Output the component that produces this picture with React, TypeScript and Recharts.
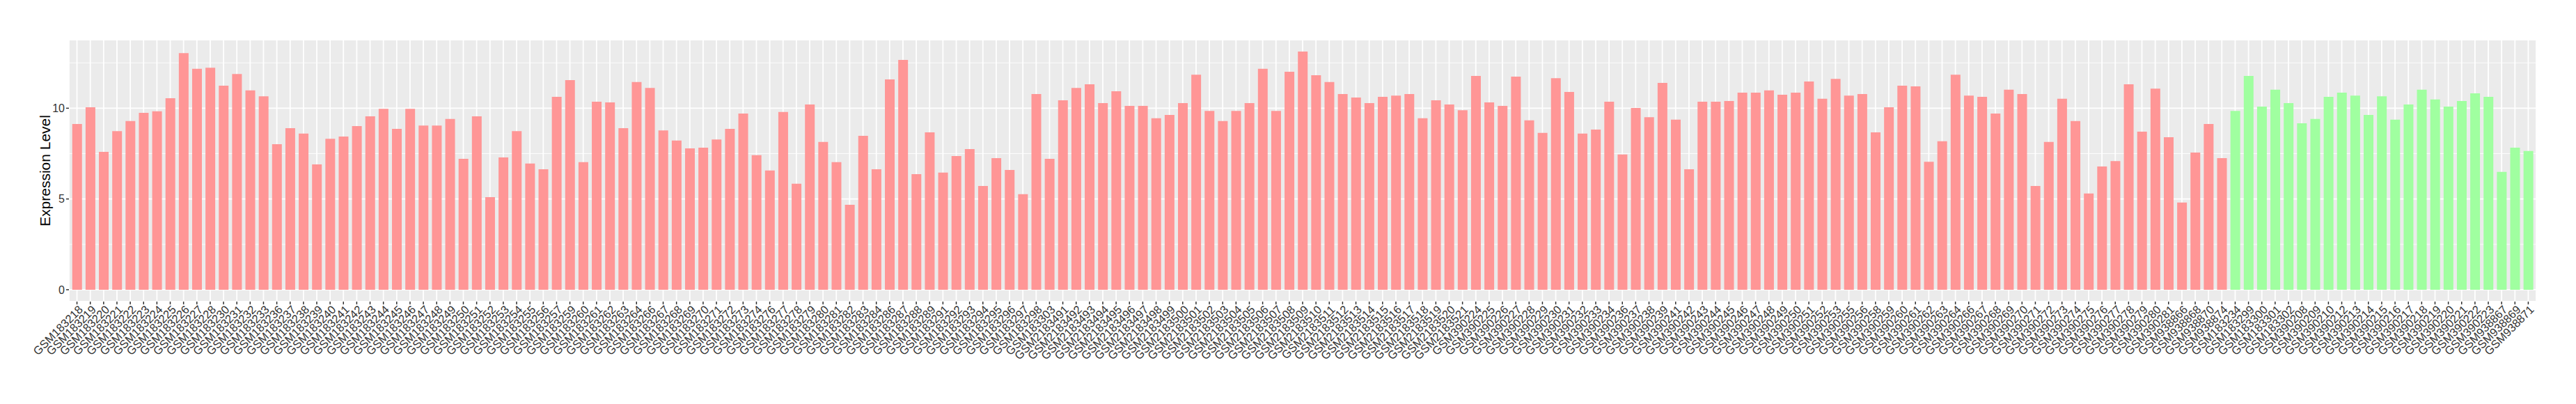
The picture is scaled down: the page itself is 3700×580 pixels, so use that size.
import { Bar, BarChart, CartesianGrid, Cell, XAxis, YAxis } from "recharts";

const groupASamples = [
  "GSM183218", "GSM183219", "GSM183220", "GSM183221", "GSM183222", "GSM183223", "GSM183224",
  "GSM183225", "GSM183226", "GSM183227", "GSM183228", "GSM183230", "GSM183231", "GSM183232",
  "GSM183233", "GSM183236", "GSM183237", "GSM183238", "GSM183239", "GSM183240", "GSM183241",
  "GSM183242", "GSM183243", "GSM183244", "GSM183245", "GSM183246", "GSM183247", "GSM183248",
  "GSM183249", "GSM183250", "GSM183251", "GSM183252", "GSM183253", "GSM183254", "GSM183255",
  "GSM183256", "GSM183257", "GSM183259", "GSM183260", "GSM183261", "GSM183262", "GSM183263",
  "GSM183264", "GSM183266", "GSM183267", "GSM183268", "GSM183269", "GSM183270", "GSM183271",
  "GSM183272", "GSM183273", "GSM183274", "GSM183276", "GSM183277", "GSM183278", "GSM183279",
  "GSM183280", "GSM183281", "GSM183282", "GSM183283", "GSM183284", "GSM183286", "GSM183287",
  "GSM183288", "GSM183289", "GSM183291", "GSM183292", "GSM183293", "GSM183294", "GSM183295",
  "GSM183296", "GSM183297", "GSM183298", "GSM183303", "GSM2183491", "GSM2183492", "GSM2183493",
  "GSM2183494", "GSM2183495", "GSM2183496", "GSM2183497", "GSM2183498", "GSM2183499",
  "GSM2183500", "GSM2183501", "GSM2183502", "GSM2183503", "GSM2183504", "GSM2183505",
  "GSM2183506", "GSM2183507", "GSM2183508", "GSM2183509", "GSM2183510", "GSM2183511",
  "GSM2183512", "GSM2183513", "GSM2183514", "GSM2183515", "GSM2183516", "GSM2183517",
  "GSM2183518", "GSM2183519", "GSM2183520", "GSM2183521", "GSM390224", "GSM390225", "GSM390226",
  "GSM390227", "GSM390228", "GSM390229", "GSM390230", "GSM390231", "GSM390232", "GSM390233",
  "GSM390234", "GSM390236", "GSM390237", "GSM390238", "GSM390239", "GSM390241", "GSM390242",
  "GSM390243", "GSM390244", "GSM390245", "GSM390246", "GSM390247", "GSM390248", "GSM390249",
  "GSM390250", "GSM390251", "GSM390252", "GSM390253", "GSM390255", "GSM390256", "GSM390258",
  "GSM390259", "GSM390260", "GSM390261", "GSM390262", "GSM390263", "GSM390264", "GSM390266",
  "GSM390267", "GSM390268", "GSM390269", "GSM390270", "GSM390271", "GSM390272", "GSM390273",
  "GSM390274", "GSM390275", "GSM390276", "GSM390277", "GSM390278", "GSM390279", "GSM390280",
  "GSM390281", "GSM938866", "GSM938868", "GSM938870", "GSM938874",
];

const groupAValues = [
  9.13, 10.05, 7.6, 8.74, 9.29, 9.75, 9.83, 10.55, 13.04, 12.17, 12.23, 11.24, 11.89, 10.98,
  10.66, 8.02, 8.9, 8.6, 6.91, 8.32, 8.44, 9.02, 9.55, 9.97, 8.86, 9.97, 9.05, 9.05,
  9.41, 7.21, 9.55, 5.1, 7.29, 8.74, 6.95, 6.64, 10.63, 11.55, 7.03, 10.36, 10.32, 8.9,
  11.44, 11.12, 8.78, 8.22, 7.79, 7.83, 8.28, 8.86, 9.71, 7.41, 6.57, 9.79, 5.84, 10.21,
  8.14, 7.03, 4.68, 8.48, 6.64, 11.59, 12.66, 6.37, 8.67, 6.45, 7.37, 7.75, 5.72, 7.25,
  6.6, 5.26, 10.78, 7.21, 10.44, 11.12, 11.32, 10.28, 10.94, 10.13, 10.13, 9.45, 9.63,
  10.28, 11.85, 9.85, 9.29, 9.85, 10.28, 12.17, 9.85, 12.01, 13.12, 11.82, 11.44,
  10.78, 10.59, 10.28, 10.63, 10.7, 10.78, 9.45, 10.44, 10.21, 9.89, 11.78, 10.32, 10.13,
  11.74, 9.33, 8.64, 11.66, 10.9, 8.6, 8.82, 10.36, 7.45, 10.01, 9.51, 11.4, 9.37, 6.64,
  10.36, 10.36, 10.4, 10.86, 10.86, 10.98, 10.74, 10.86, 11.47, 10.52, 11.62, 10.7, 10.78, 8.67,
  10.05, 11.24, 11.2, 7.05, 8.18, 11.85, 10.7, 10.63, 9.71, 11.02, 10.78, 5.72, 8.14, 10.52,
  9.29, 5.3, 6.79, 7.09, 11.32, 8.71, 11.08, 8.4, 4.8, 7.56, 9.13, 7.25,
];

const groupBSamples = [
  "GSM183234", "GSM183299", "GSM183300", "GSM183301", "GSM183302", "GSM390208", "GSM390209",
  "GSM390210", "GSM390212", "GSM390213", "GSM390214", "GSM390215", "GSM390216", "GSM390217",
  "GSM390218", "GSM390219", "GSM390220", "GSM390221", "GSM390222", "GSM390223", "GSM938867",
  "GSM938869", "GSM938871",
];

const groupBValues = [
  9.85, 11.78, 10.09, 11.02, 10.28, 9.17, 9.41, 10.63, 10.86, 10.7, 9.63, 10.66, 9.37, 10.21,
  11.02, 10.48, 10.09, 10.4, 10.82, 10.63, 6.49, 7.83, 7.64,
];

const yTicks = [0, 5, 10];
const yMinorTicks = [2.5, 7.5, 12.5];

const groupColors = { A: "#FF9696", B: "#A0FFA0" };

const data = [
  ...groupASamples.map((name, i) => ({ name, value: groupAValues[i], group: "A" })),
  ...groupBSamples.map((name, i) => ({ name, value: groupBValues[i], group: "B" })),
];

const maxValue = Math.max(...data.map((d) => d.value));
const yPad = maxValue * 0.05;

const FONT = "'Liberation Sans', Arial, Helvetica, sans-serif";
const TICK_COLOR = "#333333";

const SampleTick = ({ x, y, payload }: any) => (
  <g transform={`translate(${x + 1},${y})`}>
    <text
      x={0}
      y={0}
      dy="0.72em"
      textAnchor="end"
      transform="rotate(-45)"
      fontSize={16.5}
      fill={TICK_COLOR}
      fontFamily={FONT}
    >
      {payload.value}
    </text>
  </g>
);

const YTitle = ({ viewBox }: any) => {
  const cx = 72;
  const cy = viewBox.y + viewBox.height / 2;
  return (
    <text
      x={cx}
      y={cy}
      transform={`rotate(-90, ${cx}, ${cy})`}
      textAnchor="middle"
      fontSize={21}
      fill="#000000"
      fontFamily={FONT}
    >
      Expression Level
    </text>
  );
};

export default function App() {
  return (
    <div
      style={{
        position: "absolute",
        left: 0,
        top: 0,
        width: 3700,
        height: 580,
        background: "#ffffff",
      }}
    >
      <BarChart
        width={3700}
        height={580}
        data={data}
        margin={{ top: 57, right: 57, left: 0, bottom: 0 }}
        barCategoryGap="14.5%"
      >
        <CartesianGrid fill="#EBEBEB" fillOpacity={1} stroke="#FFFFFF" strokeWidth={1.8} />
        <CartesianGrid
          vertical={false}
          horizontalValues={yMinorTicks}
          stroke="#FFFFFF"
          strokeWidth={0.9}
        />
        <XAxis
          dataKey="name"
          interval={0}
          height={147}
          axisLine={false}
          tickSize={4}
          tickMargin={0}
          tickLine={{ stroke: "#333333", strokeWidth: 1.5 }}
          tick={<SampleTick />}
          padding={{ left: 2, right: 2 }}
        />
        <YAxis
          width={99}
          type="number"
          domain={[-yPad, maxValue + yPad]}
          ticks={yTicks}
          axisLine={false}
          tickSize={4}
          tickMargin={2}
          tickLine={{ stroke: "#333333", strokeWidth: 1.5 }}
          tick={{ fontSize: 16, fill: TICK_COLOR, fontFamily: FONT }}
          label={<YTitle />}
        />
        <Bar dataKey="value" isAnimationActive={false}>
          {data.map((d) => (
            <Cell key={d.name} fill={groupColors[d.group as "A" | "B"]} />
          ))}
        </Bar>
      </BarChart>
    </div>
  );
}
